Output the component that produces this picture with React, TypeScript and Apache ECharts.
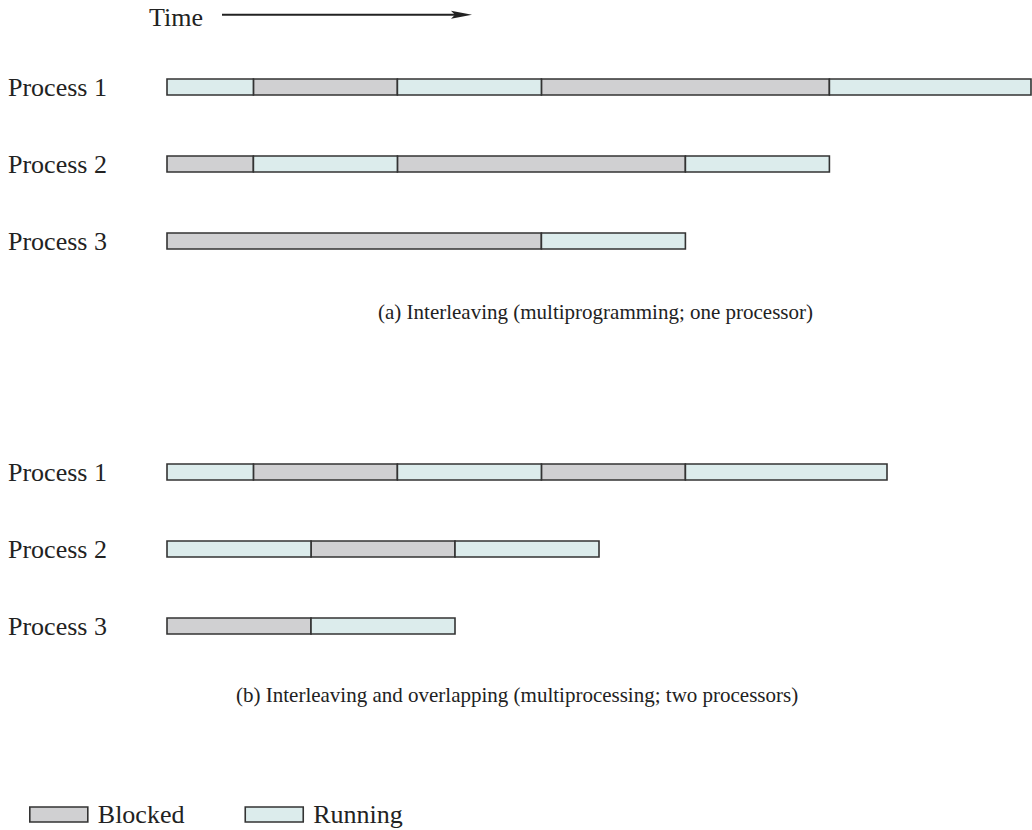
import React, { useEffect, useRef } from "react";
import * as echarts from "echarts";

const processes = ["Process 1", "Process 2", "Process 3"];
const states = ["Blocked", "Running"];

// [process index, start time, end time, state]
const interleaving: [number, number, number, string][] = [
  [0, 0, 1.2, "Running"],
  [0, 1.2, 3.2, "Blocked"],
  [0, 3.2, 5.2, "Running"],
  [0, 5.2, 9.2, "Blocked"],
  [0, 9.2, 12, "Running"],
  [1, 0, 1.2, "Blocked"],
  [1, 1.2, 3.2, "Running"],
  [1, 3.2, 7.2, "Blocked"],
  [1, 7.2, 9.2, "Running"],
  [2, 0, 5.2, "Blocked"],
  [2, 5.2, 7.2, "Running"],
];

const overlapping: [number, number, number, string][] = [
  [0, 0, 1.2, "Running"],
  [0, 1.2, 3.2, "Blocked"],
  [0, 3.2, 5.2, "Running"],
  [0, 5.2, 7.2, "Blocked"],
  [0, 7.2, 10, "Running"],
  [1, 0, 2, "Running"],
  [1, 2, 4, "Blocked"],
  [1, 4, 6, "Running"],
  [2, 0, 2, "Blocked"],
  [2, 2, 4, "Running"],
];

const captionA = "(a) Interleaving (multiprogramming; one processor)";
const captionB = "(b) Interleaving and overlapping (multiprocessing; two processors)";
const timeLabel = "Time";

const FONT = "'Liberation Serif', 'Times New Roman', serif";
const COLORS: Record<string, string> = { Blocked: "#d0d0d2", Running: "#dcecec" };
const STROKE = "#333333";

export default function App() {
  const ref = useRef<HTMLDivElement>(null);
  useEffect(() => {
    if (!ref.current) return;
    const chart = echarts.init(ref.current, undefined, { renderer: "svg" });

    const renderItem = (color: string) => (params: any, api: any) => {
      const cat = api.value(0);
      const s = api.coord([api.value(1), cat]);
      const e = api.coord([api.value(2), cat]);
      const h = 16;
      return {
        type: "rect",
        shape: { x: s[0], y: s[1] - h / 2, width: e[0] - s[0], height: h },
        style: { fill: color, stroke: STROKE, lineWidth: 1.6 },
      };
    };

    const makeSeries = (data: [number, number, number, string][], idx: number) =>
      states.map((st) => ({
        type: "custom",
        name: st,
        xAxisIndex: idx,
        yAxisIndex: idx,
        renderItem: renderItem(COLORS[st]),
        itemStyle: { color: COLORS[st], borderColor: STROKE, borderWidth: 1.6 },
        encode: { x: [1, 2], y: 0 },
        data: data.filter((d) => d[3] === st).map((d) => [d[0], d[1], d[2]]),
      }));

    const yAxisCommon = {
      type: "category",
      data: processes,
      inverse: true,
      axisLine: { show: false },
      axisTick: { show: false },
      splitLine: { show: false },
      axisLabel: {
        align: "left",
        margin: 159,
        fontSize: 26,
        fontFamily: FONT,
        color: "#222",
        padding: [4, 0, 0, 0],
      },
    };
    const xAxisCommon = {
      type: "value",
      min: 0,
      max: 12,
      show: false,
    };

    chart.setOption({
      animation: false,
      backgroundColor: "#ffffff",
      grid: [
        { left: 167, top: 48.5, width: 864, height: 231 },
        { left: 167, top: 433.5, width: 864, height: 231 },
      ],
      xAxis: [
        { ...xAxisCommon, gridIndex: 0 },
        { ...xAxisCommon, gridIndex: 1 },
      ],
      yAxis: [
        { ...yAxisCommon, gridIndex: 0 },
        { ...yAxisCommon, gridIndex: 1 },
      ],
      legend: {
        left: 29,
        top: 800,
        padding: 0,
        icon: "rect",
        itemWidth: 58,
        itemHeight: 15,
        itemGap: 60,
        selectedMode: false,
        textStyle: {
          fontSize: 26,
          fontFamily: FONT,
          color: "#222",
          lineHeight: 26,
          padding: [3, 0, 0, 5],
        },
        data: states.map((st) => ({
          name: st,
          itemStyle: { color: COLORS[st], borderColor: STROKE, borderWidth: 1.6 },
        })),
      },
      graphic: [
        {
          type: "text",
          x: 149,
          y: 17,
          style: {
            text: timeLabel,
            fontSize: 26,
            fontFamily: FONT,
            fill: "#222",
            verticalAlign: "middle",
          },
        },
        {
          type: "line",
          shape: { x1: 222, y1: 14.8, x2: 458, y2: 14.8 },
          style: { stroke: "#222", lineWidth: 2 },
        },
        {
          type: "polygon",
          shape: { points: [[451, 10.8], [472, 14.8], [451, 18.8], [455, 14.8]] },
          style: { fill: "#222" },
        },
        {
          type: "text",
          x: 378,
          y: 312,
          style: {
            text: captionA,
            fontSize: 21,
            fontFamily: FONT,
            fill: "#222",
            verticalAlign: "middle",
          },
        },
        {
          type: "text",
          x: 236,
          y: 695,
          style: {
            text: captionB,
            fontSize: 21,
            fontFamily: FONT,
            fill: "#222",
            verticalAlign: "middle",
          },
        },
      ],
      series: [...makeSeries(interleaving, 0), ...makeSeries(overlapping, 1)],
    });

    return () => chart.dispose();
  }, []);

  return (
    <div
      ref={ref}
      style={{ position: "absolute", left: 0, top: 0, width: 1032, height: 830 }}
    />
  );
}
